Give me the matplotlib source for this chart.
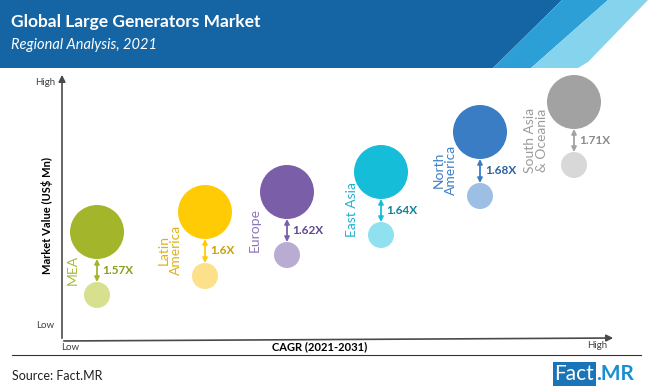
import matplotlib
matplotlib.use("Agg")
import matplotlib.pyplot as plt
from matplotlib.patches import Polygon, Rectangle

plt.rcParams['font.family'] = ['Lato', 'DejaVu Sans']

# data (positions, in plot-area pixel units)
regions = ['MEA', 'Latin\nAmerica', 'Europe', 'East Asia', 'North\nAmerica', 'South Asia\n& Oceania']
cagr_pos = [35, 143, 225, 319, 418, 512]
value_2021 = [45, 64, 85, 105, 144, 175]
value_2031 = [108, 128, 148, 168, 208, 238]
multipliers = ['1.57X', '1.6X', '1.62X', '1.64X', '1.68X', '1.71X']

big_colors = ['#a3b52b', '#ffcb05', '#7b5ea8', '#16bdd8', '#3a7dc5', '#a2a2a2']
small_colors = ['#d6e08e', '#fde08a', '#b9acd2', '#8fe1f0', '#9ebfe4', '#d8d8d8']
label_colors = ['#a9ba3a', '#dcb31a', '#8c76b8', '#22b2d0', '#3f80c6', '#9c9c9c']
mult_colors = ['#8c9c1e', '#c9a000', '#5e4590', '#0f7f99', '#2a5f9f', '#8a8a8a']
label_dx = [-24, -35, -32, -29, -35, -38]

W, H = 650, 389
fig = plt.figure(figsize=(W / 100, H / 100), dpi=100)

# overlay in pixel coords for header, axes arrows and footer
deco = fig.add_axes([0, 0, 1, 1])
deco.set_xlim(0, W)
deco.set_ylim(H, 0)
deco.axis('off')

deco.add_patch(Polygon([(0, 0), (562, 0), (493, 68), (0, 68)], closed=True, color='#1565a5', lw=0))
deco.add_patch(Polygon([(562, 0), (608, 0), (531, 68), (493, 68)], closed=True, color='#2b9fd6', lw=0))
deco.add_patch(Polygon([(608, 0), (648, 0), (588, 62), (578, 68), (531, 68)], closed=True, color='#86d3ee', lw=0))

deco.text(11, 22, 'Global Large Generators Market', color='white', fontsize=12.5,
          fontweight='bold', va='center', ha='left')
deco.text(11, 45, 'Regional Analysis, 2021', color='white', fontsize=10.5,
          style='italic', va='center', ha='left')

# axis arrows
deco.annotate('', xy=(62, 72), xytext=(62, 341),
              arrowprops=dict(arrowstyle='-|>', color='#4a4a4a', lw=1.2, mutation_scale=10))
deco.annotate('', xy=(616, 338), xytext=(61, 341),
              arrowprops=dict(arrowstyle='-|>', color='#4a4a4a', lw=1.2, mutation_scale=10))

deco.text(45, 82, 'High', fontsize=7, color='#404040', ha='center', va='center')
deco.text(45, 326, 'Low', fontsize=7, color='#404040', ha='center', va='center')
deco.text(70, 347, 'Low', fontsize=7, color='#404040', ha='center', va='center')
deco.text(597, 346, 'High', fontsize=7, color='#404040', ha='center', va='center')
deco.text(320, 347, 'CAGR (2021-2031)', fontsize=8, fontweight='bold', color='black',
          ha='center', va='center')
deco.text(47, 215, 'Market Value (US$ Mn)', fontsize=8, fontweight='bold', color='black',
          ha='center', va='center', rotation=90)

# footer
deco.plot([12, 641], [355, 355], color='#333333', lw=0.8)
deco.text(12, 376, 'Source: Fact.MR', fontsize=9, color='#222222', ha='left', va='center')
deco.add_patch(Rectangle((553, 362), 43, 24, color='#1a74b8', lw=0))
deco.text(574.5, 374.5, 'Fact', fontsize=15, color='white', ha='center', va='center')
deco.text(596, 374.5, '.MR', fontsize=15, fontweight='bold', color='#1a8fd0', ha='left', va='center')

# chart area (1 unit = 1 px)
ax = fig.add_axes([62 / W, (H - 340) / H, 558 / W, 265 / H])
ax.set_xlim(0, 558)
ax.set_ylim(0, 265)
ax.axis('off')

big_s = (54 * 0.72) ** 2
small_s = (26 * 0.72) ** 2
ax.scatter(cagr_pos, value_2031, s=big_s, c=big_colors, linewidths=0, zorder=3)
ax.scatter(cagr_pos, value_2021, s=small_s, c=small_colors, linewidths=0, zorder=3)

for i, name in enumerate(regions):
    x = cagr_pos[i]
    ax.annotate('', xy=(x, value_2031[i] - 27), xytext=(x, value_2021[i] + 13),
                arrowprops=dict(arrowstyle='<|-|>', color=big_colors[i], lw=1.3,
                                mutation_scale=7, shrinkA=0, shrinkB=0))
    mid = (value_2031[i] - 27 + value_2021[i] + 13) / 2
    ax.text(x + 5, mid, multipliers[i], fontsize=8.5, fontweight='bold',
            color=mult_colors[i], ha='left', va='center')
    ax.text(x + label_dx[i], value_2031[i] - 38, name, fontsize=10,
            color=label_colors[i], rotation=90, ha='center', va='center',
            multialignment='center', linespacing=1.0)

fig.savefig('out.png', dpi=100)
